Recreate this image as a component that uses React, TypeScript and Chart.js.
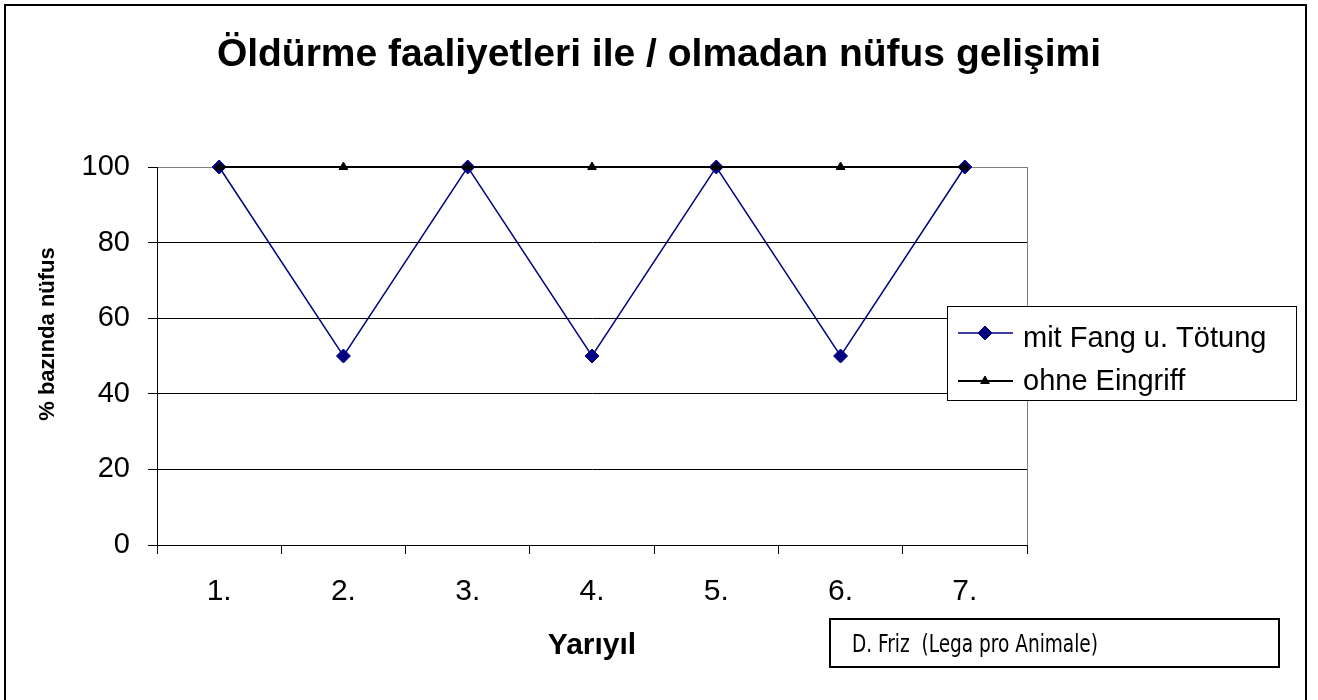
import React, { useEffect, useRef } from 'react';
import { Chart, registerables } from 'chart.js';
import { drawPoint } from 'chart.js/helpers';

Chart.register(...registerables);

const categories = ['1.', '2.', '3.', '4.', '5.', '6.', '7.'];
const mitFang = [100, 50, 100, 50, 100, 50, 100];
const ohneEingriff = [100, 100, 100, 100, 100, 100, 100];
const yTicks = [0, 20, 40, 60, 80, 100];
const seriesNames = ['mit Fang u. Tötung', 'ohne Eingriff'];
const titleText = 'Öldürme faaliyetleri ile / olmadan nüfus gelişimi';
const yTitle = '% bazında nüfus';
const xTitle = 'Yarıyıl';
const creditText = 'D. Friz  (Lega pro Animale)';

const FONT = '"Liberation Sans", Arial, Helvetica, sans-serif';
const NARROW = '"Liberation Sans Narrow", "DejaVu Sans Condensed", "Liberation Sans", sans-serif';

const decorPlugin = {
  id: 'decor',
  beforeDatasetsDraw(chart: any) {
    const { ctx, chartArea } = chart;
    ctx.save();
    ctx.strokeStyle = '#808080';
    ctx.lineWidth = 1;
    ctx.beginPath();
    ctx.moveTo(Math.round(chartArea.right) + 0.5, chartArea.top);
    ctx.lineTo(Math.round(chartArea.right) + 0.5, chartArea.bottom);
    ctx.stroke();
    ctx.restore();
  },
  afterDraw(chart: any) {
    const { ctx } = chart;
    ctx.save();
    // outer frame
    ctx.strokeStyle = '#000';
    ctx.lineWidth = 2;
    ctx.strokeRect(5, 5, 1301, 720);

    // chart title
    ctx.fillStyle = '#000';
    ctx.font = 'bold 39px ' + FONT;
    ctx.textAlign = 'center';
    ctx.textBaseline = 'middle';
    ctx.fillText(titleText, 659, 55);

    // y axis title
    ctx.save();
    ctx.translate(48, 334);
    ctx.rotate(-Math.PI / 2);
    ctx.fillStyle = '#000';
    ctx.font = 'bold 22px ' + FONT;
    ctx.textAlign = 'center';
    ctx.textBaseline = 'middle';
    ctx.fillText(yTitle, 0, 0);
    ctx.restore();

    // legend
    const lx = 947, ly = 306, lw = 349, lh = 94;
    ctx.fillStyle = '#fff';
    ctx.fillRect(lx, ly, lw, lh);
    ctx.strokeStyle = '#000';
    ctx.lineWidth = 1;
    ctx.strokeRect(lx + 0.5, ly + 0.5, lw, lh);
    const rows = [333, 381];
    const baselines = [347, 390];
    chart.data.datasets.forEach((ds: any, i: number) => {
      const y = rows[i];
      ctx.strokeStyle = ds.borderColor;
      ctx.lineWidth = ds.borderWidth;
      ctx.beginPath();
      ctx.moveTo(958, y);
      ctx.lineTo(1013, y);
      ctx.stroke();
      ctx.fillStyle = ds.pointBackgroundColor;
      ctx.strokeStyle = ds.pointBorderColor;
      ctx.lineWidth = 1;
      drawPoint(ctx, { pointStyle: ds.pointStyle, radius: ds.pointRadius, rotation: 0, borderWidth: 1 }, 985, y);
      ctx.fillStyle = '#000';
      ctx.font = '29px ' + FONT;
      ctx.textAlign = 'left';
      ctx.textBaseline = 'alphabetic';
      ctx.fillText(ds.label, 1023, baselines[i]);
    });

    // credit box
    ctx.fillStyle = '#fff';
    ctx.fillRect(830, 619, 449, 48);
    ctx.strokeStyle = '#000';
    ctx.lineWidth = 2;
    ctx.strokeRect(830, 619, 449, 48);
    ctx.fillStyle = '#000';
    ctx.font = '25px ' + NARROW;
    ctx.textAlign = 'left';
    ctx.textBaseline = 'alphabetic';
    ctx.fillText(creditText, 852, 652, 246);
    ctx.restore();
  },
};

export default function App() {
  const ref = useRef<HTMLCanvasElement | null>(null);
  useEffect(() => {
    if (!ref.current) return;
    Chart.defaults.font.family = FONT;
    Chart.defaults.color = '#000';
    const chart = new Chart(ref.current, {
      type: 'line',
      data: {
        labels: categories,
        datasets: [
          {
            label: seriesNames[0],
            data: mitFang,
            borderColor: '#000080',
            backgroundColor: '#000080',
            borderWidth: 1.5,
            pointStyle: 'rectRot',
            pointRadius: 7,
            pointBackgroundColor: '#000080',
            pointBorderColor: '#000080',
            pointBorderWidth: 1,
            tension: 0,
            clip: false,
            order: 1,
          },
          {
            label: seriesNames[1],
            data: ohneEingriff,
            borderColor: '#000000',
            backgroundColor: '#000000',
            borderWidth: 2,
            pointStyle: 'triangle',
            pointRadius: 5,
            pointBackgroundColor: '#000000',
            pointBorderColor: '#000000',
            pointBorderWidth: 1,
            tension: 0,
            clip: false,
            order: 0,
          },
        ],
      },
      options: {
        animation: false,
        responsive: false,
        devicePixelRatio: 1,
        layout: { padding: { left: 0, top: 167, right: 291, bottom: 0 } },
        plugins: {
          legend: { display: false },
          tooltip: { enabled: false },
          title: { display: false },
        },
        scales: {
          x: {
            type: 'category',
            offset: true,
            afterFit: (s: any) => { s.height = 155; },
            grid: { display: true, drawOnChartArea: false, offset: true, tickLength: 9, color: '#000', tickColor: '#000' },
            border: { display: true, color: '#000', width: 1 },
            ticks: { font: { size: 30, family: FONT }, color: '#000', padding: 20, maxRotation: 0 },
            title: {
              display: true,
              text: xTitle,
              color: '#000',
              font: { size: 30, weight: 'bold', family: FONT, lineHeight: 1.2 },
              padding: { top: 0, bottom: 36 },
            },
          },
          y: {
            min: 0,
            max: 100,
            afterFit: (s: any) => { s.width = 157; },
            afterBuildTicks: (s: any) => { s.ticks = yTicks.map((v) => ({ value: v })); },
            grid: {
              color: (c: any) => (c.tick && c.tick.value === 100 ? '#808080' : '#000'),
              tickColor: '#000',
              tickLength: 9,
              lineWidth: 1,
            },
            border: { display: true, color: '#000', width: 1 },
            ticks: { font: { size: 29, family: FONT }, color: '#000', padding: 18 },
          },
        },
      },
      plugins: [decorPlugin],
    } as any);
    return () => chart.destroy();
  }, []);
  return (
    <div style={{ position: 'absolute', left: 0, top: 0, width: 1318, height: 700, background: '#fff' }}>
      <canvas ref={ref} width={1318} height={700} style={{ display: 'block' }} />
    </div>
  );
}
